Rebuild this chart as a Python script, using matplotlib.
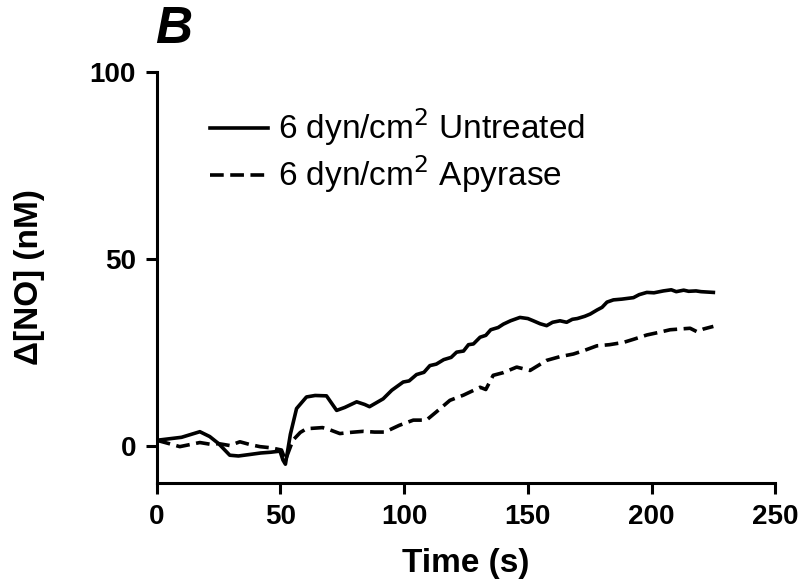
import matplotlib
matplotlib.use("Agg")
import matplotlib.pyplot as plt

# -----------------------------
# data
# -----------------------------
t_untreated = [0, 5, 10, 17.4, 21.4, 25, 29.5, 33, 37.6, 42, 46, 49.8, 51, 52, 54, 56.5,
               60.5, 64, 68.6, 72.7, 76, 80.8, 84, 86, 91.5, 95, 99.6, 102, 105, 108, 110.4,
               113, 116, 119, 121.2, 124, 126, 128, 130.7, 133, 135, 138, 140.1, 143, 146.8,
               150, 152.2, 155, 157.6, 160, 163, 165.7, 168, 170, 173, 175.2, 178, 180,
               182, 184.6, 188, 192.7, 195, 198.1, 201, 204.8, 208, 210, 213, 215, 218, 220, 225]
y_untreated = [1.4, 1.8, 2.2, 3.7, 2.4, 0.5, -2.6, -2.8, -2.4, -2.0, -1.8, -1.5, -3.9, -5.0, 3.0, 9.9,
               13.0, 13.4, 13.3, 9.4, 10.2, 11.7, 11.0, 10.4, 12.5, 14.8, 17.0, 17.3, 19.0, 19.6, 21.4,
               21.8, 23.0, 23.6, 25.0, 25.3, 27.0, 27.2, 29.0, 29.5, 31.0, 31.6, 32.5, 33.4, 34.3,
               34.0, 33.4, 32.6, 32.1, 33.0, 33.4, 33.0, 33.8, 34.0, 34.6, 35.2, 36.3, 37.0,
               38.4, 39.0, 39.2, 39.6, 40.4, 41.0, 40.9, 41.4, 41.7, 41.2, 41.6, 41.3, 41.4, 41.2, 41.0]

t_apyrase = [0, 5, 9.3, 13, 17.4, 22, 25, 29.5, 33.6, 38, 41.7, 46, 50.4, 52, 55, 58,
             60.5, 67, 70, 74, 78, 83.5, 88, 92.2, 98, 103.7, 109, 113, 118.5, 124,
             130.7, 133, 136, 140, 145.5, 150.9, 157.6, 163, 168.4, 173, 177.9, 183,
             188.6, 193, 198.1, 203, 207.5, 215.6, 218.3, 221, 225]
y_apyrase = [1.4, 0.5, -0.3, 0.2, 0.8, 0.3, 0.5, 0.0, 1.0, 0.2, -0.3, -0.6, -1.2, -3.9, 1.4, 3.5,
             4.5, 4.8, 4.2, 3.2, 3.5, 3.8, 3.6, 3.6, 5.4, 6.8, 6.8, 9.0, 12.1, 13.5,
             15.6, 15.0, 18.8, 19.5, 21.0, 20.1, 22.8, 23.8, 24.5, 25.5, 26.7, 27.0,
             27.6, 28.5, 29.6, 30.3, 31.0, 31.4, 30.5, 31.2, 31.9]

x_ticks = [0, 50, 100, 150, 200, 250]
y_ticks = [0, 50, 100]

plt.rcParams["font.family"] = ["Liberation Sans", "DejaVu Sans"]

fig = plt.figure(figsize=(8, 5.86), dpi=100)
ax = fig.add_axes([0.196, 0.176, 0.773, 0.701])

ax.plot(t_untreated, y_untreated, color="black", lw=2.6,
        label="6 dyn/cm$^2$ Untreated")
ax.plot(t_apyrase, y_apyrase, color="black", lw=2.6, ls=(0, (3.8, 1.8)),
        label="6 dyn/cm$^2$ Apyrase")

ax.set_xlim(0, 250)
ax.set_ylim(-10, 100)
ax.set_xticks(x_ticks)
ax.set_yticks(y_ticks)

for side in ["top", "right"]:
    ax.spines[side].set_visible(False)
for side in ["left", "bottom"]:
    ax.spines[side].set_linewidth(2.2)

ax.tick_params(direction="out", length=8, width=2.2, labelsize=20, pad=7)
for lbl in ax.get_xticklabels() + ax.get_yticklabels():
    lbl.set_fontweight("bold")

ax.set_xlabel("Time (s)", fontsize=24, fontweight="bold", labelpad=13)
ax.set_ylabel("Δ[NO] (nM)", fontsize=24, fontweight="bold", labelpad=32)

leg = ax.legend(loc="upper left", bbox_to_anchor=(0.086, 0.916), frameon=False,
                fontsize=24, handlelength=1.75, handletextpad=0.3, labelspacing=0.15,
                borderaxespad=0, borderpad=0)

fig.text(0.194, 1 - 43 / 586, "B", fontsize=37, fontweight="bold", fontstyle="italic",
         va="baseline")

plt.savefig("out.png", dpi=100)
plt.close()
